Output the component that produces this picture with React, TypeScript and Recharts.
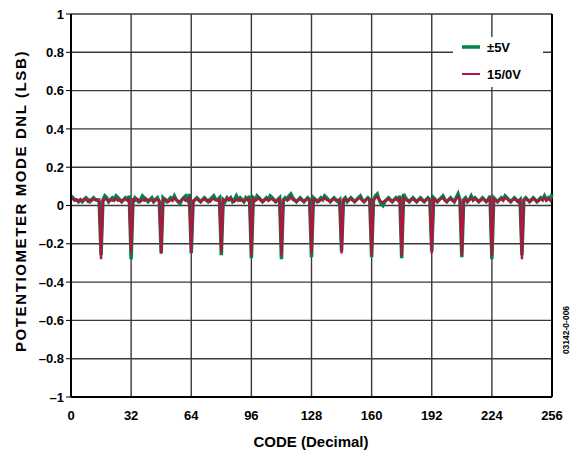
import { CartesianGrid, Customized, Line, LineChart, ReferenceLine, XAxis, YAxis } from "recharts";

// DNL per code (one row per 16 codes)
const dnl5V: number[] = [
  0.05, 0.04, 0.03, 0.03, 0.02, 0.03, 0.02, 0.03, 0.04, 0.03, 0.02, 0.03, 0.04, 0.03, 0.03, 0.02,
  -0.26, 0.03, 0.05, 0.04, 0.02, 0.03, 0.04, 0.03, 0.05, 0.04, 0.03, 0.02, 0.03, 0.04, 0.03, 0.05,
  -0.28, 0.02, 0.04, 0.03, 0.02, 0.03, 0.05, 0.04, 0.03, 0.02, 0.03, 0.04, 0.02, 0.03, 0.04, 0.02,
  -0.25, 0.04, 0.03, 0.02, 0.03, 0.04, 0.03, 0.05, 0.03, 0.02, 0.01, 0.03, 0.04, 0.05, 0.03, 0.06,
  -0.25, 0.02, 0.03, 0.04, 0.03, 0.02, 0.03, 0.04, 0.03, 0.02, 0.03, 0.04, 0.05, 0.03, 0.03, 0.04,
  -0.26, 0.03, 0.02, 0.04, 0.03, 0.04, 0.02, 0.03, 0.05, 0.03, 0.04, 0.03, 0.02, 0.04, 0.03, 0.05,
  -0.275, 0.04, 0.03, 0.05, 0.04, 0.03, 0.02, 0.03, 0.04, 0.03, 0.05, 0.04, 0.03, 0.02, 0.03, 0.04,
  -0.28, 0.03, 0.04, 0.03, 0.05, 0.06, 0.04, 0.03, 0.02, 0.03, 0.04, 0.03, 0.02, 0.03, 0.04, 0.03,
  -0.27, 0.04, 0.03, 0.02, 0.03, 0.04, 0.03, 0.05, 0.04, 0.03, 0.02, 0.03, 0.04, 0.03, 0.02, 0.03,
  -0.24, 0.03, 0.04, 0.02, 0.03, 0.04, 0.03, 0.02, 0.03, 0.04, 0.05, 0.03, 0.02, 0.03, 0.04, 0.03,
  -0.27, 0.03, 0.05, 0.06, 0.03, 0.01, 0.0, 0.02, 0.03, 0.04, 0.03, 0.02, 0.03, 0.04, 0.03, 0.05,
  -0.275, 0.06, 0.04, 0.03, 0.02, 0.03, 0.04, 0.03, 0.02, 0.03, 0.04, 0.03, 0.02, 0.03, 0.04, 0.03,
  -0.24, 0.04, 0.03, 0.02, 0.03, 0.04, 0.05, 0.03, 0.02, 0.03, 0.04, 0.03, 0.02, 0.04, 0.06, 0.03,
  -0.27, 0.03, 0.04, 0.02, 0.03, 0.05, 0.03, 0.04, 0.03, 0.02, 0.03, 0.04, 0.03, 0.02, 0.03, 0.05,
  -0.28, 0.04, 0.03, 0.02, 0.03, 0.04, 0.03, 0.05, 0.04, 0.03, 0.02, 0.03, 0.04, 0.03, 0.02, 0.03,
  -0.26, 0.03, 0.04, 0.03, 0.02, 0.03, 0.04, 0.03, 0.02, 0.03, 0.04, 0.03, 0.05, 0.03, 0.04, 0.03,
  0.06,
];

const dnl15V: number[] = [
  0.03, 0.035, 0.025, 0.03, 0.02, 0.03, 0.025, 0.035, 0.03, 0.02, 0.03, 0.025, 0.035, 0.03, 0.025, 0.03,
  -0.28, 0.025, 0.03, 0.035, 0.02, 0.03, 0.025, 0.03, 0.035, 0.025, 0.03, 0.02, 0.03, 0.035, 0.025, 0.03,
  -0.25, 0.03, 0.025, 0.035, 0.03, 0.02, 0.03, 0.025, 0.035, 0.03, 0.025, 0.03, 0.02, 0.035, 0.03, 0.025,
  -0.25, 0.03, 0.035, 0.025, 0.02, 0.03, 0.025, 0.04, 0.03, 0.025, 0.02, 0.03, 0.035, 0.025, 0.03, 0.04,
  -0.245, 0.025, 0.03, 0.035, 0.025, 0.02, 0.03, 0.035, 0.025, 0.03, 0.02, 0.03, 0.035, 0.03, 0.025, 0.03,
  -0.245, 0.03, 0.025, 0.035, 0.03, 0.04, 0.025, 0.02, 0.03, 0.035, 0.025, 0.03, 0.02, 0.03, 0.035, 0.03,
  -0.26, 0.035, 0.025, 0.03, 0.04, 0.025, 0.02, 0.03, 0.035, 0.025, 0.03, 0.035, 0.025, 0.02, 0.03, 0.035,
  -0.26, 0.025, 0.03, 0.035, 0.03, 0.045, 0.03, 0.025, 0.02, 0.03, 0.035, 0.025, 0.02, 0.03, 0.035, 0.025,
  -0.255, 0.03, 0.035, 0.025, 0.02, 0.03, 0.035, 0.04, 0.03, 0.025, 0.02, 0.03, 0.035, 0.025, 0.03, 0.025,
  -0.25, 0.03, 0.035, 0.025, 0.03, 0.035, 0.025, 0.02, 0.03, 0.035, 0.04, 0.025, 0.02, 0.03, 0.035, 0.03,
  -0.26, 0.025, 0.04, 0.045, 0.03, 0.02, 0.015, 0.025, 0.03, 0.035, 0.025, 0.02, 0.03, 0.035, 0.025, 0.035,
  -0.265, 0.04, 0.03, 0.025, 0.02, 0.03, 0.035, 0.025, 0.02, 0.03, 0.035, 0.025, 0.02, 0.03, 0.035, 0.025,
  -0.25, 0.035, 0.025, 0.02, 0.03, 0.035, 0.04, 0.025, 0.02, 0.03, 0.035, 0.025, 0.02, 0.035, 0.045, 0.03,
  -0.26, 0.025, 0.035, 0.02, 0.03, 0.04, 0.025, 0.035, 0.03, 0.02, 0.025, 0.035, 0.03, 0.02, 0.03, 0.04,
  -0.265, 0.035, 0.025, 0.02, 0.03, 0.035, 0.025, 0.04, 0.035, 0.025, 0.02, 0.03, 0.035, 0.025, 0.02, 0.03,
  -0.28, 0.025, 0.035, 0.03, 0.02, 0.025, 0.035, 0.03, 0.02, 0.025, 0.035, 0.03, 0.04, 0.025, 0.035, 0.03,
  0.03,
];

const xTicks = [0, 32, 64, 96, 128, 160, 192, 224, 256];
const yTicks = [-1, -0.8, -0.6, -0.4, -0.2, 0, 0.2, 0.4, 0.6, 0.8, 1];
const seriesNames = ["\u00b15V", "15/0V"];

const GREEN = "#00844a";
const RED = "#b0143f";
const FONT = "'Liberation Sans', Arial, sans-serif";

const rows = dnl5V.map((v, i) => ({ code: i, v5: v, v15: dnl15V[i] }));

const fmtY = (v: number) => {
  if (v === 0) return "0";
  const s = Math.abs(v).toFixed(1).replace(/\.0$/, "");
  return v < 0 ? `\u2013${s}` : s;
};

// titles, legend box and the figure stamp
function Overlay() {
  const legend = [
    { label: seriesNames[0], color: GREEN, w: 3.5, y: 47 },
    { label: seriesNames[1], color: RED, w: 2, y: 74 },
  ];
  return (
    <g fontFamily={FONT} fontWeight={700} fill="#000">
      <rect x={453} y={37} width={90} height={50} fill="#fff" />
      {legend.map((it) => (
        <g key={it.label}>
          <line x1={462} x2={480} y1={it.y} y2={it.y} stroke={it.color} strokeWidth={it.w} />
          <text x={487} y={it.y} dominantBaseline="central" fontSize={13}>
            {it.label}
          </text>
        </g>
      ))}
      <text x={311} y={447} textAnchor="middle" fontSize={15}>
        CODE (Decimal)
      </text>
      <text
        x={20}
        y={201}
        textAnchor="middle"
        dominantBaseline="central"
        fontSize={15}
        letterSpacing={1.6}
        transform="rotate(-90 20 201)"
      >
        POTENTIOMETER MODE DNL (LSB)
      </text>
      <text
        x={566}
        y={330}
        textAnchor="middle"
        dominantBaseline="central"
        fontSize={8.5}
        transform="rotate(-90 566 330)"
      >
        03142-0-006
      </text>
    </g>
  );
}

export default function App() {
  const tick = { fill: "#000", fontSize: 13, fontWeight: 700, fontFamily: FONT };
  return (
    <div style={{ position: "absolute", left: 0, top: 0, background: "#fff" }}>
      <LineChart width={577} height={453} data={rows} margin={{ top: 14, right: 25, left: 0, bottom: 0 }}>
        <CartesianGrid stroke="#3a3a3a" strokeWidth={1.4} />
        <XAxis
          dataKey="code"
          type="number"
          domain={[0, 256]}
          ticks={xTicks}
          height={56}
          tick={tick}
          tickLine={false}
          tickSize={6}
          tickMargin={8}
          axisLine={{ stroke: "#000", strokeWidth: 2 }}
        />
        <YAxis
          type="number"
          domain={[-1, 1]}
          ticks={yTicks}
          width={71}
          tick={tick}
          tickFormatter={fmtY}
          tickSize={5}
          tickMargin={2}
          tickLine={{ stroke: "#000" }}
          axisLine={{ stroke: "#000", strokeWidth: 2 }}
        />
        <ReferenceLine x={256} stroke="#000" strokeWidth={2} />
        <Line dataKey="v5" name={seriesNames[0]} stroke={GREEN} strokeWidth={3.5} dot={false} isAnimationActive={false} />
        <Line dataKey="v15" name={seriesNames[1]} stroke={RED} strokeWidth={2.4} dot={false} isAnimationActive={false} />
        <Customized component={Overlay} />
      </LineChart>
    </div>
  );
}
